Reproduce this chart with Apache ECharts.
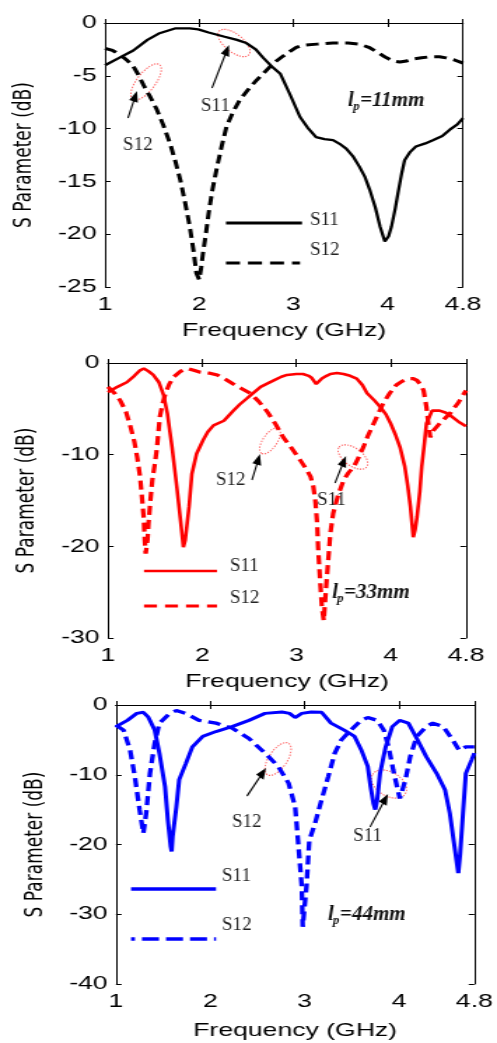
<!DOCTYPE html>
<html>
<head>
<meta charset="utf-8">
<script src="https://cdn.jsdelivr.net/npm/echarts@6/dist/echarts.min.js"></script>
<style>
html,body{margin:0;padding:0;background:#fff;overflow:hidden;}
#chart{width:355px;height:1043px;transform:scaleX(1.4);transform-origin:0 0;}
</style>
</head>
<body>
<div id="chart"></div>
<script>
// ---------- data (frequency GHz, dB) ----------
const xTickLabels = ['1', '2', '3', '4', '4.8'];
const p1S11 = [[1.00,-4.0],[1.15,-3.3],[1.30,-2.6],[1.45,-1.6],[1.57,-1.0],[1.75,-0.5],[1.90,-0.5],[1.99,-0.6],[2.10,-0.9],[2.27,-1.3],[2.40,-1.6],[2.50,-1.9],[2.60,-2.5],[2.68,-3.3],[2.78,-4.2],[2.86,-4.8],[2.96,-6.7],[3.07,-8.9],[3.15,-9.9],[3.24,-10.8],[3.33,-11.0],[3.42,-11.1],[3.50,-11.5],[3.56,-11.9],[3.63,-12.6],[3.70,-13.6],[3.76,-14.6],[3.81,-15.8],[3.87,-17.5],[3.92,-19.3],[3.97,-20.7],[4.01,-20.2],[4.04,-19.3],[4.08,-17.6],[4.11,-16.1],[4.15,-14.2],[4.18,-13.0],[4.24,-12.2],[4.30,-11.7],[4.40,-11.4],[4.48,-11.1],[4.58,-10.7],[4.66,-10.1],[4.74,-9.6],[4.80,-9.0]];
const p1S12 = [[1.00,-2.4],[1.08,-2.6],[1.16,-3.0],[1.23,-3.5],[1.30,-4.1],[1.36,-5.0],[1.41,-5.9],[1.48,-7.0],[1.55,-8.2],[1.62,-9.7],[1.69,-11.4],[1.75,-13.2],[1.80,-14.9],[1.85,-17.0],[1.90,-19.3],[1.94,-21.6],[1.97,-23.7],[2.00,-24.3],[2.02,-23.2],[2.04,-21.8],[2.07,-20.0],[2.10,-18.0],[2.14,-15.8],[2.19,-13.6],[2.24,-11.6],[2.29,-9.8],[2.36,-8.4],[2.43,-7.3],[2.52,-6.3],[2.61,-5.4],[2.70,-4.6],[2.79,-3.8],[2.88,-3.2],[2.96,-2.7],[3.03,-2.3],[3.10,-2.1],[3.25,-2.0],[3.42,-1.9],[3.58,-1.9],[3.70,-2.0],[3.80,-2.3],[3.88,-2.7],[3.95,-3.1],[3.99,-3.3],[4.06,-3.6],[4.13,-3.7],[4.20,-3.6],[4.27,-3.4],[4.36,-3.3],[4.45,-3.2],[4.55,-3.2],[4.62,-3.3],[4.71,-3.5],[4.80,-3.8]];
const p2S11 = [[1.00,-3.2],[1.10,-2.6],[1.20,-2.1],[1.28,-1.4],[1.34,-0.8],[1.38,-0.6],[1.43,-0.9],[1.48,-1.3],[1.54,-2.1],[1.59,-3.5],[1.63,-5.5],[1.68,-9.2],[1.73,-13.5],[1.77,-17.2],[1.80,-20.1],[1.82,-19.3],[1.84,-17.5],[1.86,-15.7],[1.89,-12.1],[1.94,-9.9],[2.01,-8.4],[2.06,-7.5],[2.12,-6.8],[2.23,-6.3],[2.33,-5.2],[2.40,-4.5],[2.47,-3.9],[2.55,-3.2],[2.62,-2.6],[2.70,-2.2],[2.76,-1.9],[2.84,-1.5],[2.90,-1.3],[3.00,-1.2],[3.07,-1.2],[3.13,-1.4],[3.16,-1.6],[3.21,-2.3],[3.24,-2.0],[3.27,-1.7],[3.32,-1.4],[3.36,-1.2],[3.43,-1.1],[3.50,-1.2],[3.57,-1.4],[3.64,-1.7],[3.70,-2.4],[3.75,-3.3],[3.82,-4.0],[3.89,-4.8],[3.95,-5.6],[4.00,-6.6],[4.05,-7.8],[4.10,-9.2],[4.15,-11.3],[4.18,-13.3],[4.21,-15.7],[4.24,-19.0],[4.26,-18.2],[4.28,-16.8],[4.31,-14.0],[4.33,-11.3],[4.36,-8.6],[4.38,-6.6],[4.44,-5.2],[4.52,-5.2],[4.58,-5.4],[4.63,-5.7],[4.72,-6.4],[4.80,-6.9]];
const p2S12 = [[1.00,-2.6],[1.07,-3.3],[1.13,-4.1],[1.19,-5.3],[1.24,-7.0],[1.28,-8.6],[1.31,-10.3],[1.34,-12.4],[1.36,-14.6],[1.38,-17.0],[1.39,-19.3],[1.40,-20.8],[1.42,-19.2],[1.43,-17.5],[1.45,-15.0],[1.47,-12.8],[1.50,-10.8],[1.52,-9.2],[1.55,-5.9],[1.58,-4.4],[1.61,-3.3],[1.65,-2.3],[1.70,-1.5],[1.77,-0.9],[1.84,-0.6],[1.91,-0.8],[1.98,-1.0],[2.07,-1.1],[2.16,-1.3],[2.25,-1.8],[2.33,-2.3],[2.42,-2.8],[2.51,-3.3],[2.60,-4.2],[2.69,-5.3],[2.78,-6.7],[2.86,-8.1],[2.95,-9.3],[3.04,-10.6],[3.10,-11.5],[3.15,-12.4],[3.18,-13.5],[3.20,-15.0],[3.22,-17.5],[3.23,-20.1],[3.25,-23.5],[3.27,-26.6],[3.29,-28.1],[3.30,-26.6],[3.32,-23.8],[3.34,-21.2],[3.36,-18.6],[3.39,-16.4],[3.44,-14.5],[3.50,-12.8],[3.55,-12.0],[3.61,-11.3],[3.66,-10.3],[3.71,-9.2],[3.76,-7.9],[3.82,-6.6],[3.87,-5.5],[3.92,-4.4],[3.99,-3.3],[4.06,-2.4],[4.12,-2.0],[4.19,-1.7],[4.24,-1.7],[4.28,-1.9],[4.32,-2.4],[4.35,-3.0],[4.38,-4.8],[4.40,-6.6],[4.42,-8.1],[4.45,-7.4],[4.52,-6.6],[4.58,-6.0],[4.63,-5.5],[4.72,-4.3],[4.80,-3.0]];
const p3S11 = [[1.00,-3.1],[1.12,-2.2],[1.22,-1.2],[1.29,-1.05],[1.34,-1.7],[1.41,-3.6],[1.46,-6.9],[1.52,-11.7],[1.55,-16.5],[1.58,-20.3],[1.59,-21.0],[1.60,-18.9],[1.64,-14.6],[1.67,-10.7],[1.74,-8.4],[1.81,-6.0],[1.92,-4.5],[2.06,-3.8],[2.23,-3.1],[2.41,-2.2],[2.58,-1.2],[2.76,-1.0],[2.84,-1.2],[2.90,-1.8],[2.97,-1.2],[3.07,-1.0],[3.18,-1.05],[3.28,-2.6],[3.42,-3.6],[3.53,-4.5],[3.60,-6.4],[3.67,-8.8],[3.70,-11.7],[3.73,-14.1],[3.75,-15.0],[3.77,-13.6],[3.80,-9.8],[3.86,-6.0],[3.93,-3.1],[4.01,-2.2],[4.10,-2.6],[4.19,-4.8],[4.29,-7.4],[4.40,-9.8],[4.49,-12.2],[4.54,-15.5],[4.59,-20.3],[4.63,-24.1],[4.65,-21.3],[4.68,-15.5],[4.71,-9.8],[4.77,-7.9],[4.80,-6.9]];
const p3S12 = [[1.00,-2.9],[1.08,-3.6],[1.15,-6.5],[1.20,-10.3],[1.25,-15.0],[1.29,-18.4],[1.32,-15.5],[1.36,-9.8],[1.41,-5.5],[1.46,-2.6],[1.57,-1.2],[1.64,-0.8],[1.74,-1.2],[1.88,-2.2],[2.06,-2.6],[2.23,-3.3],[2.41,-4.8],[2.58,-6.9],[2.72,-8.8],[2.83,-11.2],[2.90,-14.6],[2.93,-19.4],[2.97,-26.0],[2.98,-31.8],[3.02,-26.0],[3.05,-19.4],[3.11,-17.0],[3.18,-13.6],[3.25,-10.3],[3.32,-6.9],[3.39,-5.0],[3.49,-3.6],[3.60,-2.2],[3.67,-1.8],[3.77,-2.2],[3.84,-3.6],[3.89,-6.0],[3.94,-9.3],[3.98,-11.7],[4.01,-13.4],[4.03,-13.6],[4.07,-10.7],[4.12,-7.4],[4.19,-4.5],[4.29,-3.1],[4.36,-2.6],[4.47,-3.1],[4.57,-5.0],[4.64,-6.5],[4.71,-6.0],[4.80,-6.0]];
const seriesNames = ['S11', 'S12'];
const panelLabels = ['=11mm', '=33mm', '=44mm'];
const yRanges = [[-25, 0, 5], [-30, 0, 10], [-40, 0, 10]];

// ---------- layout ----------
const S = 1.4; // horizontal stretch of the original figure
const grids = [
  {left: 105 / S, top: 23, width: 358 / S, height: 264},
  {left: 108 / S, top: 363, width: 358 / S, height: 275},
  {left: 116 / S, top: 705, width: 362 / S, height: 279}
];
const colors = ['#000000', '#ff0000', '#0000ff'];
const nameGapsX = [34, 34, 37];

const xAxes = [], yAxes = [];
grids.forEach((g, i) => {
  xAxes.push({
    type: 'value', gridIndex: i, min: 1, max: 4.8, interval: 1,
    name: 'Frequency (GHz)', nameLocation: 'middle', nameGap: nameGapsX[i],
    nameTextStyle: {fontFamily: 'Liberation Sans', fontSize: 19, color: '#000'},
    axisLine: {show: true, lineStyle: {color: '#000', width: 1}},
    axisTick: {show: true, inside: true, length: 4, lineStyle: {color: '#000'}},
    axisLabel: {show: true, margin: 8, fontFamily: 'Liberation Sans', fontSize: 19, color: '#000',
      formatter: v => { const k = [1, 2, 3, 4, 4.8].indexOf(+v.toFixed(1)); return k >= 0 ? xTickLabels[k] : ''; }},
    splitLine: {show: false}
  });
  xAxes.push({
    type: 'value', gridIndex: i, position: 'top', min: 1, max: 4.8, interval: 1,
    axisLine: {show: true, lineStyle: {color: '#000', width: 1}},
    axisTick: {show: true, inside: true, length: 4, lineStyle: {color: '#000'}},
    axisLabel: {show: false}, splitLine: {show: false}
  });
  const r = yRanges[i];
  yAxes.push({
    type: 'value', gridIndex: i, min: r[0], max: r[1], interval: r[2],
    name: 'S Parameter (dB)', nameLocation: 'middle', nameGap: 49,
    nameTextStyle: {fontFamily: 'DejaVu Sans', fontSize: 17, color: '#000'},
    axisLine: {show: true, lineStyle: {color: '#000', width: 1}},
    axisTick: {show: true, inside: true, length: 4, lineStyle: {color: '#000'}},
    axisLabel: {show: true, margin: 6, fontFamily: 'Liberation Sans', fontSize: 19, color: '#000'},
    splitLine: {show: false}
  });
  yAxes.push({
    type: 'value', gridIndex: i, position: 'right', min: r[0], max: r[1], interval: r[2],
    axisLine: {show: true, lineStyle: {color: '#000', width: 1}},
    axisTick: {show: true, inside: true, length: 4, lineStyle: {color: '#000'}},
    axisLabel: {show: false}, splitLine: {show: false}
  });
});

const panelData = [[p1S11, p1S12], [p2S11, p2S12], [p3S11, p3S12]];
const widths = [[2.3, 3], [2.6, 3.2], [3, 3.3]];
const series = [];
panelData.forEach((pair, i) => {
  pair.forEach((d, j) => {
    series.push({
      type: 'line', name: seriesNames[j] + '_' + i, xAxisIndex: i * 2, yAxisIndex: i * 2,
      data: d, showSymbol: false, symbol: 'none', smooth: false,
      lineStyle: {color: colors[i], width: widths[i][j], type: j === 0 ? 'solid' : [9, 5]},
      z: 3
    });
  });
});

// ---------- overlay annotations (in reference pixel coordinates) ----------
function arrow(x1, y1, x2, y2) {
  const dx = x2 - x1, dy = y2 - y1, L = Math.hypot(dx, dy), ux = dx / L, uy = dy / L;
  const hl = 11, hw = 4.5;
  const bx = x2 - ux * hl, by = y2 - uy * hl;
  return [
    {type: 'line', shape: {x1: x1, y1: y1, x2: bx + ux * 2, y2: by + uy * 2}, style: {stroke: '#000', lineWidth: 1.5}},
    {type: 'polygon', shape: {points: [[x2, y2], [bx - uy * hw, by + ux * hw], [bx + uy * hw, by - ux * hw]]}, style: {fill: '#000'}}
  ];
}
function ellipse(cx, cy, rx, ry, rotDeg) {
  return {type: 'ellipse', x: cx, y: cy, rotation: rotDeg * Math.PI / 180,
    shape: {cx: 0, cy: 0, rx: rx, ry: ry},
    style: {fill: 'none', stroke: '#ff5a5a', lineWidth: 1.2, lineDash: [1.5, 1.5]}};
}
function label(txt, x, y) {
  return {type: 'text', x: x, y: y, style: {text: txt, fontFamily: 'Liberation Serif', fontSize: 19, fill: '#222', align: 'left', verticalAlign: 'middle'}};
}
function lp(x, y, rest) {
  return [
    {type: 'text', x: x, y: y, style: {text: 'l', fontFamily: 'Liberation Serif', fontSize: 21, fontWeight: 'bold', fontStyle: 'italic', fill: '#111', align: 'left', verticalAlign: 'middle'}},
    {type: 'text', x: x + 5, y: y + 6, style: {text: 'p', fontFamily: 'Liberation Serif', fontSize: 13, fontWeight: 'bold', fontStyle: 'italic', fill: '#111', align: 'left', verticalAlign: 'middle'}},
    {type: 'text', x: x + 12, y: y, style: {text: rest, fontFamily: 'Liberation Serif', fontSize: 21, fontWeight: 'bold', fontStyle: 'italic', fill: '#111', align: 'left', verticalAlign: 'middle'}}
  ];
}
function legLine(x1, x2, y, color, w, dash) {
  return {type: 'line', shape: {x1: x1, y1: y, x2: x2, y2: y}, style: {stroke: color, lineWidth: w, lineDash: dash || null}};
}

const overlay = [].concat(
  // panel 1
  [ellipse(146, 82, 22, 9, 52), ellipse(234, 43, 19, 9, -38)],
  arrow(128, 118, 137, 91), arrow(212, 88, 229, 45),
  [label('S12', 123, 145), label('S11', 201, 106)],
  lp(348, 101, panelLabels[0]),
  [legLine(226, 302, 223, '#000', 3), legLine(226, 300, 263, '#000', 3, [14, 8]),
   label(seriesNames[0], 310, 220), label(seriesNames[1], 310, 250)],
  // panel 2
  [ellipse(270, 441, 15, 7, 55), ellipse(353, 457, 17, 9, -35)],
  arrow(252, 480, 260, 454), arrow(335, 483, 346, 456),
  [label('S12', 216, 480), label('S11', 317, 500)],
  lp(332, 593, panelLabels[1]),
  [legLine(144, 217, 571, '#ff0000', 2.5), legLine(144, 217, 606, '#ff0000', 3, [13, 8]),
   label(seriesNames[0], 230, 566), label(seriesNames[1], 230, 598)],
  // panel 3
  [ellipse(278, 759, 19, 9, 55), ellipse(389, 784, 19, 12, -30)],
  arrow(247, 796, 266, 768), arrow(370, 827, 388, 794),
  [label('S12', 232, 822), label('S11', 353, 836)],
  lp(328, 915, panelLabels[2]),
  [legLine(131, 216, 889, '#0000ff', 3.5), legLine(131, 216, 939, '#0000ff', 3.5, [4, 7, 17, 7, 17, 7, 17, 7]),
   label(seriesNames[0], 222, 876), label(seriesNames[1], 222, 925)]
);

const chart = echarts.init(document.getElementById('chart'));
chart.setOption({
  animation: false,
  backgroundColor: '#fff',
  grid: grids.map(g => Object.assign({containLabel: false}, g)),
  xAxis: xAxes,
  yAxis: yAxes,
  series: series,
  graphic: [{type: 'group', x: 0, y: 0, scaleX: 1 / S, scaleY: 1, z: 10, children: overlay}]
});
</script>
</body>
</html>
